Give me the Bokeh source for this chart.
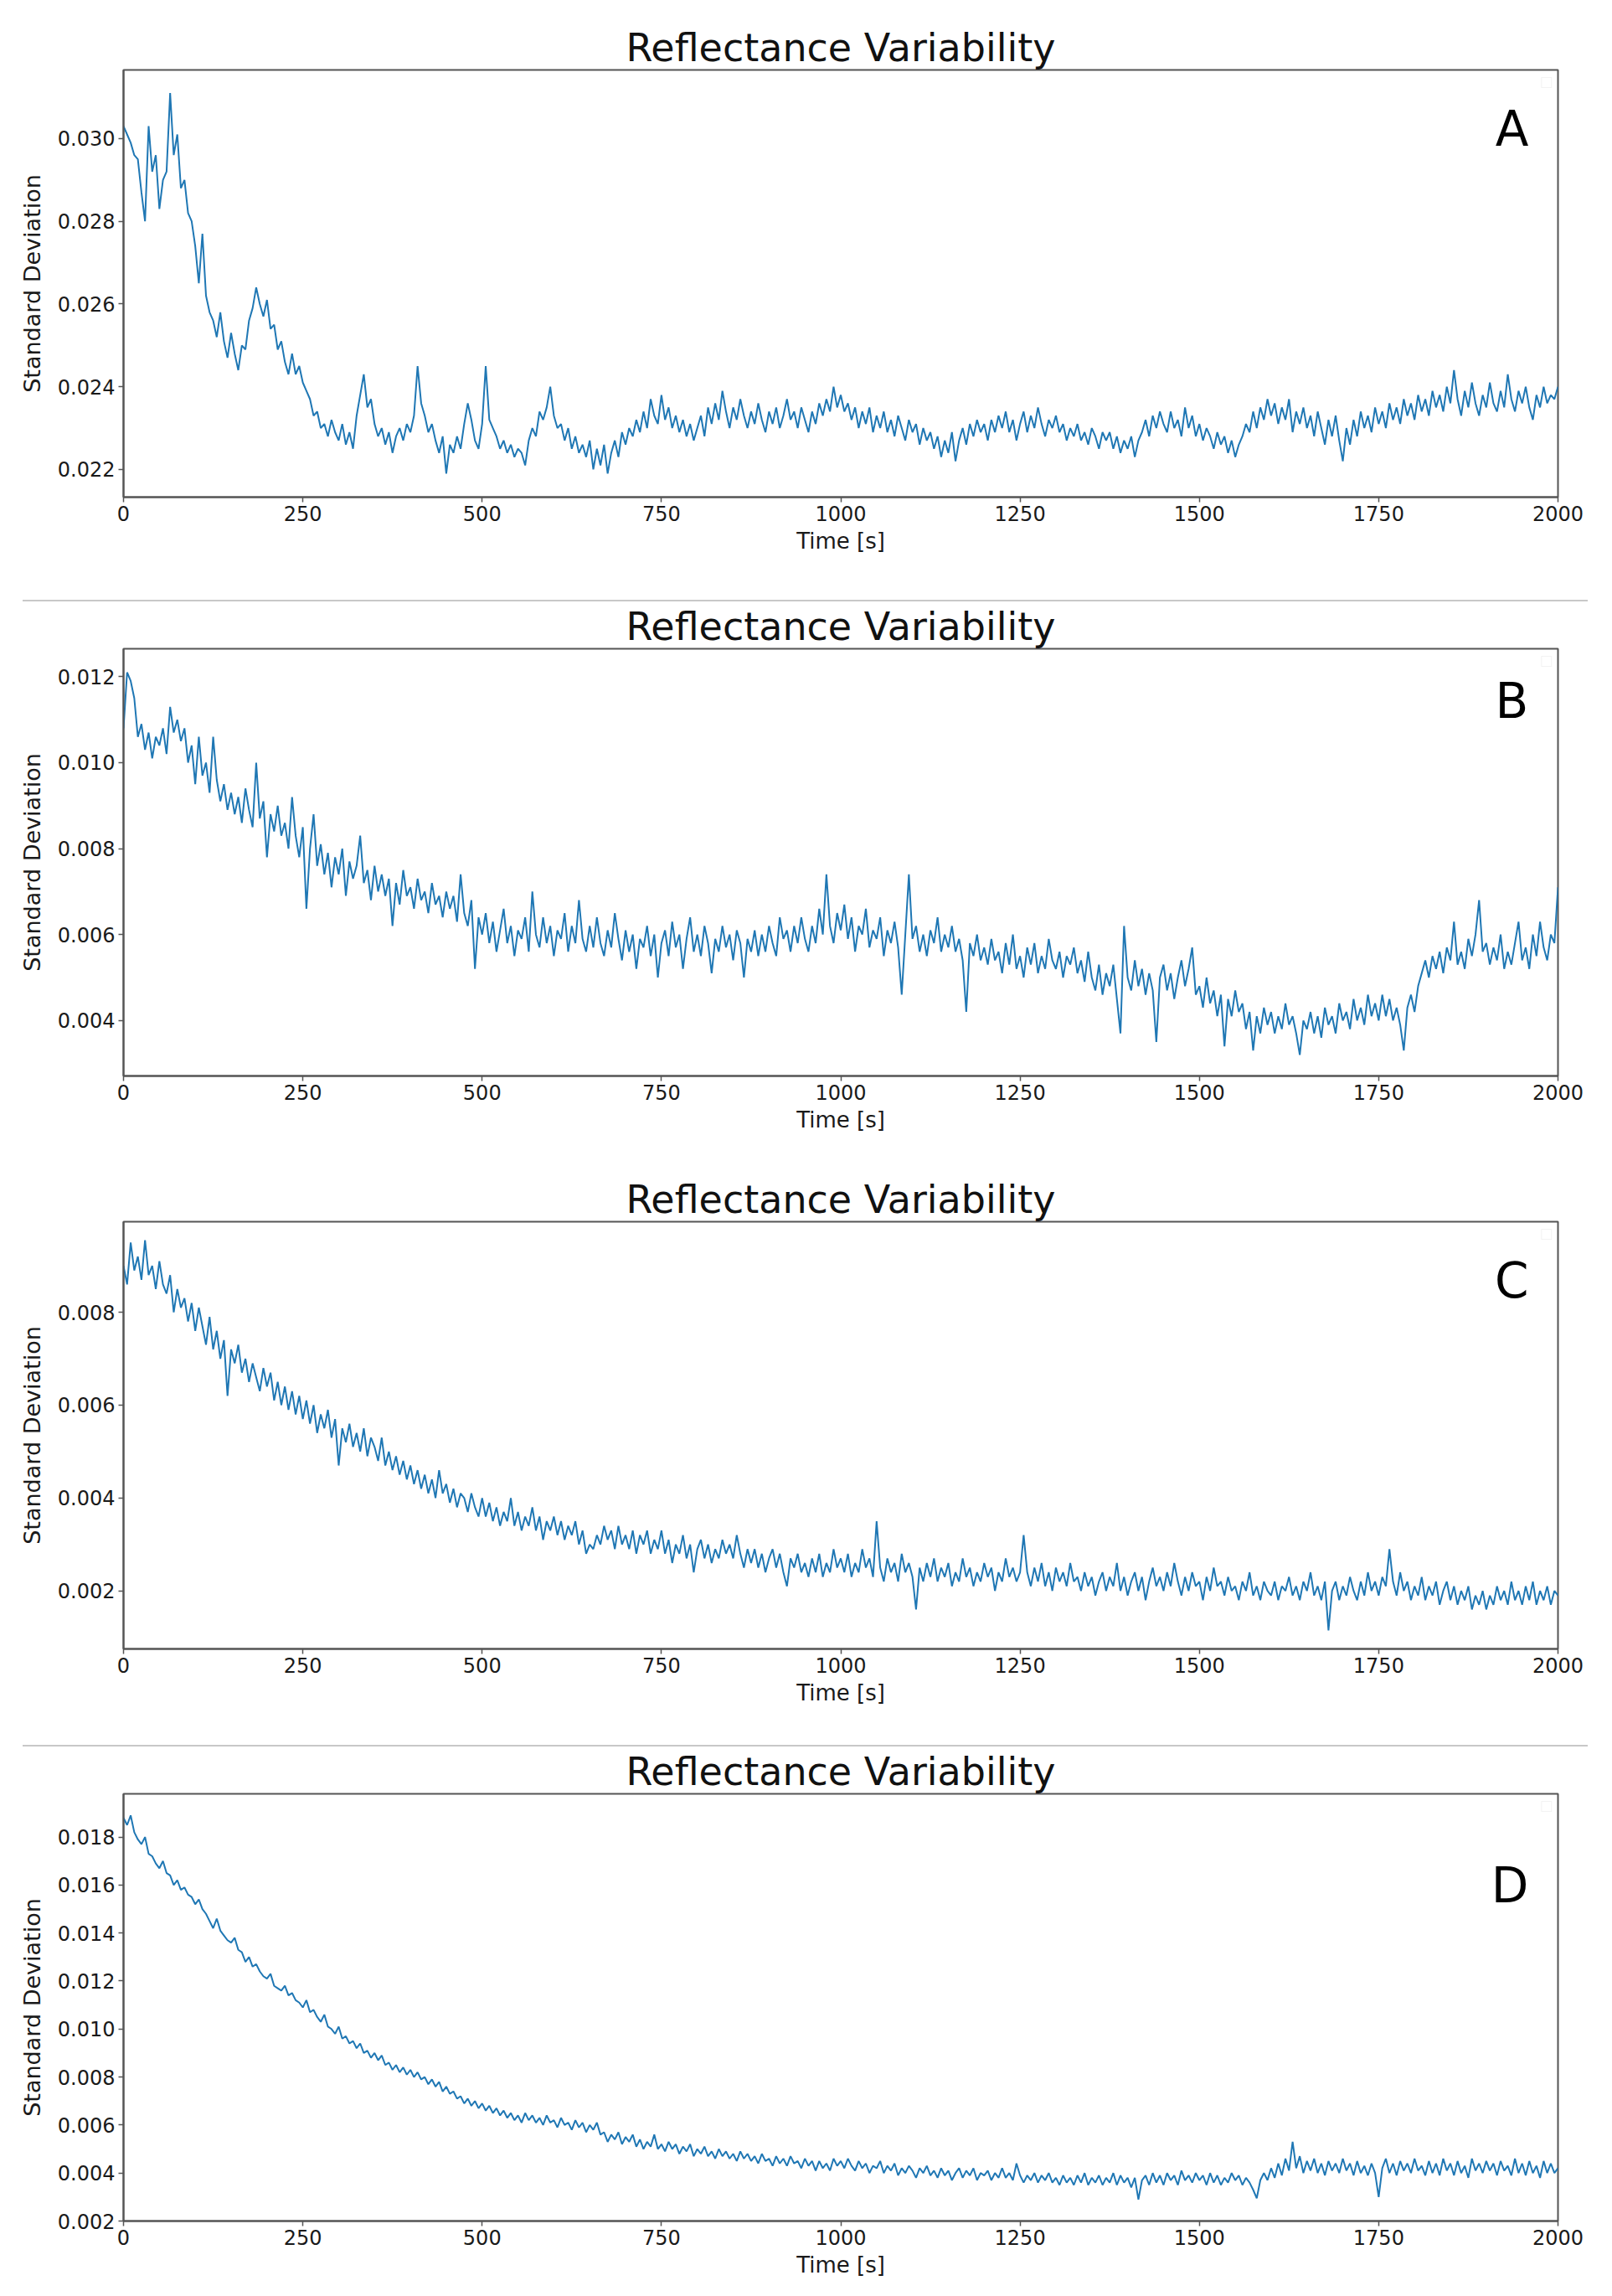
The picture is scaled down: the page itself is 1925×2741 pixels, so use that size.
import numpy as np
from bokeh.plotting import figure
from bokeh.layouts import column
from bokeh.models import Range1d, FixedTicker, PrintfTickFormatter, Label, BoxAnnotation, Div
from bokeh.embed import file_html
from bokeh.resources import INLINE

# sample times of the recordings [s]
time_s = np.arange(0, 2001, 5)

# standard deviation readings, stored in units of 1e-5
std_a_e5 = [
    3030, 3010, 2990, 2960, 2950, 2870, 2800, 3030, 2920, 2960, 2830, 2900, 2920, 3110, 2960, 3010, 2880, 2900, 2820, 2800,
    2740, 2650, 2770, 2620, 2580, 2560, 2520, 2580, 2510, 2470, 2530, 2480, 2440, 2500, 2490, 2560, 2590, 2640, 2600, 2570,
    2610, 2540, 2550, 2490, 2510, 2460, 2430, 2480, 2430, 2450, 2410, 2390, 2370, 2330, 2340, 2300, 2310, 2280, 2320, 2290,
    2270, 2310, 2260, 2290, 2250, 2330, 2380, 2430, 2350, 2370, 2310, 2280, 2300, 2260, 2290, 2240, 2280, 2300, 2270, 2310,
    2290, 2330, 2450, 2360, 2330, 2290, 2310, 2270, 2240, 2280, 2190, 2260, 2240, 2280, 2250, 2310, 2360, 2320, 2270, 2250,
    2310, 2450, 2320, 2300, 2280, 2250, 2270, 2240, 2260, 2230, 2250, 2240, 2210, 2270, 2300, 2280, 2340, 2320, 2350, 2400,
    2330, 2300, 2310, 2270, 2300, 2250, 2280, 2240, 2260, 2230, 2270, 2200, 2250, 2210, 2260, 2190, 2240, 2270, 2230, 2290,
    2260, 2300, 2280, 2320, 2290, 2340, 2300, 2370, 2330, 2310, 2380, 2320, 2350, 2300, 2330, 2290, 2320, 2280, 2310, 2270,
    2300, 2330, 2280, 2350, 2310, 2360, 2320, 2390, 2340, 2300, 2350, 2320, 2370, 2330, 2300, 2340, 2310, 2360, 2320, 2290,
    2340, 2310, 2350, 2300, 2330, 2370, 2320, 2340, 2300, 2350, 2320, 2290, 2340, 2310, 2360, 2330, 2370, 2340, 2400, 2350,
    2380, 2340, 2360, 2320, 2350, 2300, 2340, 2310, 2350, 2290, 2330, 2300, 2340, 2290, 2320, 2280, 2330, 2300, 2270, 2320,
    2290, 2310, 2260, 2300, 2270, 2290, 2250, 2280, 2230, 2270, 2240, 2290, 2220, 2270, 2300, 2260, 2310, 2280, 2320, 2290,
    2310, 2270, 2320, 2290, 2330, 2300, 2340, 2290, 2320, 2270, 2310, 2340, 2290, 2330, 2300, 2350, 2310, 2280, 2320, 2300,
    2330, 2290, 2310, 2270, 2300, 2280, 2310, 2270, 2290, 2260, 2300, 2280, 2250, 2290, 2270, 2290, 2250, 2280, 2240, 2270,
    2250, 2280, 2230, 2270, 2290, 2320, 2280, 2330, 2300, 2340, 2310, 2290, 2340, 2300, 2320, 2280, 2350, 2300, 2330, 2280,
    2310, 2270, 2300, 2280, 2250, 2290, 2260, 2280, 2240, 2270, 2230, 2260, 2280, 2310, 2290, 2340, 2300, 2350, 2320, 2370,
    2330, 2360, 2310, 2350, 2320, 2370, 2290, 2340, 2310, 2350, 2300, 2330, 2280, 2340, 2300, 2260, 2320, 2280, 2330, 2270,
    2220, 2300, 2260, 2320, 2280, 2340, 2300, 2330, 2290, 2350, 2310, 2340, 2300, 2360, 2320, 2350, 2310, 2370, 2330, 2360,
    2320, 2380, 2340, 2370, 2330, 2390, 2350, 2380, 2340, 2400, 2360, 2440, 2370, 2330, 2390, 2350, 2410, 2360, 2330, 2380,
    2350, 2410, 2360, 2340, 2390, 2350, 2430, 2370, 2340, 2390, 2360, 2400, 2350, 2320, 2380, 2350, 2400, 2360, 2380, 2370,
    2400,
]

std_b_e5 = [
    1080, 1210, 1190, 1150, 1060, 1090, 1030, 1070, 1010, 1060, 1040, 1080, 1020, 1130, 1070, 1100, 1050, 1080, 1000, 1040,
    950, 1060, 970, 1000, 930, 1060, 960, 910, 950, 890, 930, 880, 920, 860, 940, 890, 850, 1000, 870, 910,
    780, 880, 840, 900, 830, 860, 800, 920, 830, 780, 850, 660, 800, 880, 760, 810, 740, 790, 710, 780,
    740, 800, 690, 770, 730, 760, 830, 720, 750, 680, 760, 700, 740, 690, 730, 620, 720, 670, 750, 690,
    710, 660, 730, 680, 700, 650, 720, 670, 690, 640, 700, 660, 690, 630, 740, 650, 620, 680, 520, 640,
    600, 650, 580, 630, 560, 610, 660, 580, 620, 550, 610, 590, 640, 560, 700, 600, 570, 640, 580, 620,
    550, 610, 590, 650, 560, 620, 580, 680, 590, 560, 620, 570, 640, 580, 550, 610, 570, 650, 590, 540,
    610, 560, 600, 520, 590, 570, 620, 550, 600, 500, 580, 610, 550, 630, 570, 600, 520, 590, 640, 560,
    600, 550, 620, 580, 510, 590, 560, 620, 570, 600, 540, 610, 580, 500, 590, 560, 610, 550, 600, 560,
    620, 580, 550, 640, 590, 610, 560, 620, 580, 640, 590, 560, 620, 580, 660, 600, 740, 620, 580, 650,
    610, 670, 590, 640, 560, 620, 600, 660, 570, 610, 590, 640, 550, 610, 580, 630, 570, 460, 600, 740,
    590, 620, 560, 600, 550, 610, 580, 640, 560, 600, 570, 620, 560, 590, 540, 420, 580, 550, 600, 540,
    570, 530, 590, 540, 560, 510, 580, 530, 600, 520, 550, 500, 570, 530, 580, 510, 550, 520, 590, 540,
    520, 560, 500, 550, 530, 570, 510, 540, 490, 560, 500, 470, 530, 460, 510, 480, 530, 450, 370, 620,
    500, 470, 540, 480, 520, 460, 510, 470, 350, 500, 530, 470, 510, 450, 500, 540, 480, 520, 570, 460,
    480, 430, 500, 440, 470, 410, 460, 340, 450, 410, 470, 420, 440, 380, 420, 330, 410, 370, 430, 390,
    420, 370, 410, 380, 440, 390, 410, 370, 320, 400, 380, 420, 370, 410, 360, 430, 390, 410, 370, 440,
    400, 420, 380, 450, 400, 430, 390, 460, 410, 440, 400, 460, 410, 450, 400, 430, 390, 330, 430, 460,
    420, 480, 510, 540, 500, 550, 520, 560, 510, 570, 540, 630, 530, 560, 520, 590, 550, 600, 680, 560,
    580, 530, 570, 540, 600, 520, 560, 530, 580, 630, 540, 570, 520, 600, 550, 630, 570, 540, 600, 580,
    710,
]

std_c_e5 = [
    900, 860, 950, 890, 920, 870, 955, 880, 900, 850, 910, 860, 840, 880, 800, 850, 810, 830, 780, 820,
    760, 810, 770, 730, 790, 720, 760, 700, 740, 620, 720, 690, 730, 670, 700, 650, 690, 660, 630, 680,
    640, 670, 610, 650, 600, 640, 590, 630, 580, 620, 570, 610, 560, 600, 540, 580, 550, 590, 530, 570,
    470, 550, 520, 560, 510, 540, 500, 550, 490, 530, 510, 480, 530, 470, 500, 460, 490, 450, 480, 440,
    470, 430, 460, 420, 450, 410, 440, 400, 460, 410, 430, 390, 420, 380, 410, 400, 370, 410, 380, 360,
    400, 360, 390, 350, 380, 340, 370, 350, 400, 340, 370, 330, 360, 340, 380, 330, 360, 310, 350, 330,
    360, 320, 350, 310, 340, 320, 350, 300, 330, 280, 300, 290, 320, 300, 340, 310, 330, 290, 340, 300,
    320, 290, 330, 280, 320, 300, 330, 280, 310, 290, 330, 280, 310, 260, 300, 280, 320, 270, 300, 240,
    290, 310, 270, 300, 260, 290, 270, 310, 280, 300, 270, 320, 280, 250, 290, 260, 290, 250, 280, 240,
    270, 290, 250, 280, 240, 210, 270, 250, 280, 240, 260, 230, 270, 240, 280, 230, 260, 240, 290, 250,
    270, 240, 280, 230, 260, 240, 290, 250, 270, 230, 350, 250, 220, 270, 240, 260, 220, 280, 240, 260,
    230, 160, 250, 220, 260, 230, 270, 220, 250, 230, 260, 210, 240, 220, 270, 230, 250, 210, 240, 220,
    260, 230, 250, 200, 240, 220, 270, 230, 250, 220, 240, 320, 240, 210, 250, 220, 260, 210, 240, 200,
    250, 220, 240, 210, 260, 220, 230, 200, 240, 210, 230, 190, 220, 240, 200, 230, 210, 260, 200, 230,
    190, 220, 240, 200, 230, 180, 220, 250, 210, 230, 200, 240, 210, 260, 220, 190, 230, 200, 240, 210,
    220, 180, 230, 200, 250, 210, 220, 190, 230, 200, 210, 180, 220, 200, 240, 190, 210, 180, 220, 200,
    190, 220, 180, 210, 200, 230, 190, 210, 180, 220, 200, 240, 190, 210, 180, 220, 115, 200, 220, 180,
    210, 190, 230, 200, 180, 220, 190, 240, 200, 220, 190, 230, 210, 290, 220, 190, 240, 200, 220, 180,
    210, 190, 230, 180, 210, 190, 220, 170, 200, 220, 180, 210, 170, 200, 180, 210, 160, 190, 170, 200,
    160, 190, 170, 210, 180, 200, 170, 220, 180, 200, 170, 210, 180, 220, 170, 200, 180, 210, 170, 200,
    190,
]

std_d_e5 = [
    1880, 1850, 1890, 1820, 1790, 1770, 1800, 1730, 1720, 1690, 1670, 1700, 1650, 1640, 1600, 1620, 1580, 1590, 1560, 1550,
    1520, 1540, 1500, 1480, 1450, 1420, 1460, 1410, 1390, 1370, 1360, 1380, 1330, 1320, 1280, 1300, 1260, 1270, 1240, 1220,
    1210, 1230, 1180, 1170, 1160, 1180, 1140, 1150, 1120, 1110, 1090, 1120, 1070, 1080, 1050, 1030, 1060, 1010, 1000, 980,
    1010, 960, 970, 940, 950, 920, 940, 900, 910, 880, 900, 870, 890, 850, 860, 830, 850, 820, 840, 810,
    830, 800, 820, 790, 800, 770, 790, 760, 780, 740, 760, 730, 740, 710, 720, 690, 710, 680, 700, 670,
    690, 660, 680, 650, 670, 640, 660, 630, 650, 620, 640, 610, 650, 620, 640, 610, 630, 600, 640, 610,
    620, 590, 630, 600, 610, 580, 620, 590, 610, 570, 600, 580, 610, 560, 570, 530, 560, 540, 570, 520,
    550, 530, 560, 510, 540, 500, 530, 510, 560, 500, 520, 490, 530, 500, 520, 480, 510, 490, 520, 470,
    500, 480, 510, 470, 490, 460, 500, 470, 490, 460, 480, 450, 490, 460, 480, 450, 470, 440, 480, 450,
    460, 430, 470, 440, 460, 430, 470, 440, 450, 420, 460, 430, 450, 410, 450, 420, 440, 410, 460, 430,
    450, 420, 460, 430, 410, 450, 420, 440, 400, 430, 420, 450, 400, 430, 410, 440, 390, 420, 400, 430,
    410, 380, 420, 400, 430, 390, 410, 380, 420, 390, 410, 370, 400, 420, 380, 410, 390, 420, 370, 400,
    390, 410, 370, 400, 380, 420, 380, 400, 370, 440, 390, 360, 390, 370, 400, 360, 390, 370, 400, 360,
    380, 350, 390, 360, 380, 350, 390, 360, 400, 350, 380, 360, 390, 350, 380, 360, 400, 350, 390, 360,
    380, 340, 380, 290, 370, 390, 350, 400, 360, 390, 350, 400, 370, 390, 350, 410, 370, 390, 360, 400,
    370, 390, 350, 400, 360, 390, 350, 380, 360, 400, 370, 390, 350, 380, 360, 330, 295, 370, 400, 370,
    420, 380, 440, 390, 460, 410, 530, 420, 470, 400, 450, 410, 460, 400, 440, 390, 450, 410, 440, 400,
    460, 410, 440, 390, 450, 400, 430, 390, 440, 400, 300, 420, 460, 400, 440, 390, 450, 410, 440, 400,
    460, 410, 430, 390, 450, 400, 440, 390, 460, 410, 440, 390, 450, 400, 430, 380, 460, 410, 440, 400,
    450, 410, 440, 390, 450, 410, 430, 390, 460, 400, 440, 390, 450, 400, 430, 380, 450, 400, 440, 400,
    420,
]

panel_letters = ["A", "B", "C", "D"]
series = [std_a_e5, std_b_e5, std_c_e5, std_d_e5]
y_limits = [(0.02133, 0.03166), (0.00271, 0.01265), (0.00075, 0.00995), (0.002, 0.0198)]
y_ticks = [
    [0.022, 0.024, 0.026, 0.028, 0.030],
    [0.004, 0.006, 0.008, 0.010, 0.012],
    [0.002, 0.004, 0.006, 0.008],
    [0.002, 0.004, 0.006, 0.008, 0.010, 0.012, 0.014, 0.016, 0.018],
]
x_ticks = [0, 250, 500, 750, 1000, 1250, 1500, 1750, 2000]

# layout of the four stacked panels (pixels)
FRAME_W, FRAME_H = 1713, 510
BORDER_L, BORDER_R = 147, 56
border_top = [83, 50, 75, 48]
border_bottom = [123, 99, 115, 84]
letter_drop = [70, 62, 70, 109]
rule_before = [False, True, False, True]

FONT = "DejaVu Sans"
BLUE = "#1f77b4"
SPINE = "#555555"


def make_panel(i):
    ylo, yhi = y_limits[i]
    p = figure(
        frame_width=FRAME_W, frame_height=FRAME_H,
        min_border_left=BORDER_L, min_border_right=BORDER_R,
        min_border_top=border_top[i], min_border_bottom=border_bottom[i],
        x_range=Range1d(0, 2000), y_range=Range1d(ylo, yhi),
        title="Reflectance Variability",
        x_axis_label="Time [s]", y_axis_label="Standard Deviation",
        toolbar_location=None, tools="", output_backend="svg")

    p.line(time_s, np.array(series[i]) / 1e5, line_color=BLUE, line_width=2.0)

    p.title.align = "center"
    p.title.text_font = FONT
    p.title.text_font_size = "46px"
    p.title.text_font_style = "normal"
    p.title.text_color = "#111111"
    p.title.standoff = 0

    p.grid.visible = False
    p.outline_line_color = SPINE
    p.outline_line_width = 2

    p.xaxis.ticker = FixedTicker(ticks=x_ticks)
    p.yaxis.ticker = FixedTicker(ticks=y_ticks[i])
    p.yaxis.formatter = PrintfTickFormatter(format="%.3f")
    for ax in (p.xaxis, p.yaxis):
        ax.axis_line_color = SPINE
        ax.axis_line_width = 2
        ax.major_tick_line_color = SPINE
        ax.major_tick_line_width = 1.5
        ax.major_tick_in = 0
        ax.major_tick_out = 6
        ax.minor_tick_line_color = None
        ax.major_label_text_font = FONT
        ax.major_label_text_font_size = "24px"
        ax.major_label_text_color = "#1a1a1a"
        ax.major_label_standoff = 4
        ax.axis_label_text_font = FONT
        ax.axis_label_text_font_style = "normal"
        ax.axis_label_text_color = "#1a1a1a"
    p.xaxis.axis_label_text_font_size = "26px"
    p.xaxis.axis_label_standoff = 6
    p.yaxis.axis_label_text_font_size = "27px"
    p.yaxis.axis_label_standoff = 12

    span = yhi - ylo
    # panel letter in the upper right corner
    p.add_layout(Label(
        x=1959, y=yhi - letter_drop[i] / FRAME_H * span,
        text=panel_letters[i], text_font=FONT, text_font_size="58px",
        text_color="#000000", text_align="right", text_baseline="alphabetic"))

    # empty legend box left in the corner
    p.add_layout(BoxAnnotation(
        left=1977, right=1991,
        top=yhi - 9 / FRAME_H * span, bottom=yhi - 21 / FRAME_H * span,
        fill_color="white", fill_alpha=1.0, line_color="#d8d8d8", line_width=1))
    return p


items = []
for i in range(4):
    if rule_before[i]:
        items.append(Div(text="", width=1869, height=2, margin=(0, 0, 0, 27),
                         styles={"background-color": "#c8c8c8"}))
    items.append(make_panel(i))

layout = column(*items, spacing=0)

open("out.html", "w").write(file_html(layout, INLINE))
